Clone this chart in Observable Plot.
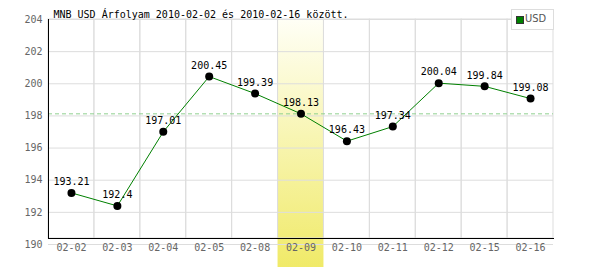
<!DOCTYPE html>
<html>
<head>
<meta charset="utf-8">
<script src="https://cdn.jsdelivr.net/npm/d3@7"></script>
<script src="https://cdn.jsdelivr.net/npm/@observablehq/plot@0.6"></script>
<style>
  html, body { margin: 0; padding: 0; background: #fff; }
  #wrap { position: relative; width: 600px; height: 270px; }
  #legend { position: absolute; left: 511px; top: 9px; width: 41px; height: 19px; border: 1px solid #ddd; background: #fff; font: 11px "DejaVu Sans Condensed", "DejaVu Sans", sans-serif; color: #555; }
  #legend .sw { position: absolute; left: 4px; top: 6px; width: 6px; height: 6px; background: #008000; border: 1px solid #333; }
  #legend .lb { position: absolute; left: 13px; top: 2px; }
</style>
</head>
<body>
<div id="wrap"><div id="legend"><span class="sw"></span><span class="lb">USD</span></div></div>
<script>
const dates = ["02-02","02-03","02-04","02-05","02-08","02-09","02-10","02-11","02-12","02-15","02-16"];
const values = [193.21, 192.4, 197.01, 200.45, 199.39, 198.13, 196.43, 197.34, 200.04, 199.84, 199.08];
const labels = ["193.21","192.4","197.01","200.45","199.39","198.13","196.43","197.34","200.04","199.84","199.08"];
const yTicks = [190, 192, 194, 196, 198, 200, 202, 204];
const highlightDate = "02-09";
const refValue = 198.13;
const seriesName = "USD";
const title = "MNB USD Árfolyam 2010-02-02 és 2010-02-16 között.";

const data = dates.map((d, i) => ({date: d, value: values[i], label: labels[i]}));
const font = "'DejaVu Sans Mono', monospace";

const chart = Plot.plot({
  width: 600,
  height: 270,
  marginLeft: 48,
  marginRight: 47,
  marginTop: 19,
  marginBottom: 32,
  style: {fontFamily: font, fontSize: "10px", background: "transparent", overflow: "visible"},
  x: {type: "band", domain: dates, padding: 0, round: false, range: [48, 553], label: null},
  y: {domain: [190, 204], range: [244, 19], label: null},
  marks: [
    Plot.barY([highlightDate], {x: d => d, y1: 190, y2: 204, fill: "url(#hlgrad)", insetBottom: -23}),
    Plot.barY(dates, {x: d => d, y1: 190, y2: 204, fill: "none", stroke: "#ddd", insetBottom: 6}),
    Plot.ruleY(yTicks, {stroke: "#ddd"}),
    Plot.ruleY([refValue], {stroke: "#8fd08f", strokeDasharray: "4,3"}),
    Plot.frame({anchor: "left", stroke: "#000"}),
    Plot.frame({anchor: "bottom", stroke: "#000"}),
    Plot.axisY(yTicks, {tickSize: 0, tickPadding: 6, fill: "#666", fontSize: 10, label: null}),
    Plot.axisX({tickSize: 0, tickPadding: 5, fill: "#666", fontSize: 10, label: null}),
    Plot.line(data, {x: "date", y: "value", stroke: "#008000", strokeWidth: 1}),
    Plot.dot(data, {x: "date", y: "value", r: 4, fill: "#000"}),
    Plot.text(data, {x: "date", y: "value", text: "label", dy: -11, fill: "#000", fontSize: 10}),
    Plot.text([title], {frameAnchor: "top-left", text: d => d, textAnchor: "start", lineAnchor: "bottom", dx: 5, dy: -2, fill: "#000", fontSize: 10})
  ]
});

const svg = d3.select(chart);
const defs = svg.insert("defs", ":first-child");
const g = defs.append("linearGradient").attr("id", "hlgrad").attr("x1", 0).attr("y1", 0).attr("x2", 0).attr("y2", 1);
g.append("stop").attr("offset", "0%").attr("stop-color", "#fffff6");
g.append("stop").attr("offset", "100%").attr("stop-color", "#f0ea68");

document.getElementById("wrap").prepend(chart);
</script>
</body>
</html>
